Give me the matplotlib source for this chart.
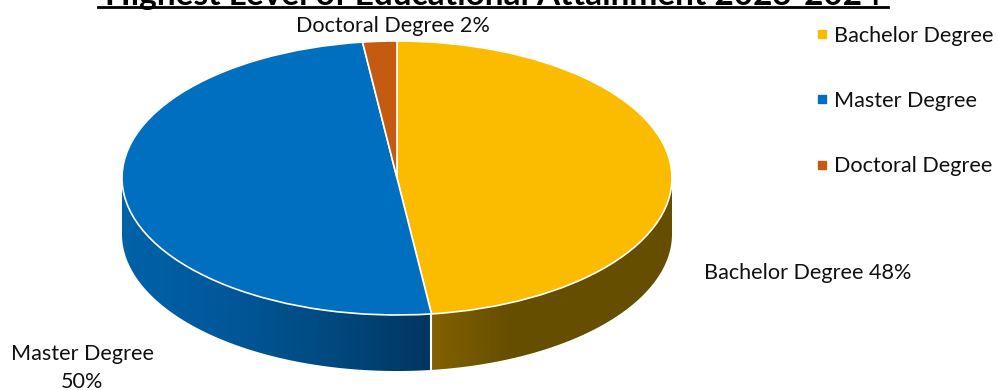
import numpy as np
import matplotlib
matplotlib.use("Agg")
import matplotlib.pyplot as plt
from matplotlib.colors import LinearSegmentedColormap
from matplotlib.lines import Line2D
from matplotlib.patches import Polygon

categories = ["Bachelor Degree", "Master Degree", "Doctoral Degree"]
values = [48, 50, 2]
colors = ["#FBBC00", "#006FC0", "#C55A11"]
title = "Highest Level of Educational Attainment 2023-2024"

W, H = 997, 390
CX, CY, RX, RY, DEPTH = 397, 178, 275, 137, 56

plt.rcParams["font.family"] = ["Lato", "DejaVu Sans"]


def fx(px):
    return px / W


def fy(py):
    return 1 - py / H


fig = plt.figure(figsize=(W / 100, H / 100), dpi=100)
ax = fig.add_axes([0, 0, 1, 1])

wedges, _ = ax.pie(values, colors=colors, startangle=90, counterclock=False,
                   wedgeprops={"edgecolor": "white", "linewidth": 1.2, "zorder": 5})
ax.set_aspect("auto")

# side wall of the slices, only the front half can be seen
d = DEPTH / RY
ends = 90 - np.cumsum(values) * 3.6


def wall(a0, a1, cmap, x0, x1):
    t = np.radians(np.linspace(a0, a1, 200))
    top = np.c_[np.cos(t), np.sin(t)]
    bottom = top[::-1] - [0, d]
    poly = Polygon(np.r_[top, bottom], closed=True, fc="none", ec="none", transform=ax.transData)
    ax.add_patch(poly)
    grad = np.linspace(0, 1, 256).reshape(1, -1)
    im = ax.imshow(grad, cmap=cmap, extent=[x0, x1, -1 - d, 0.1], aspect="auto", zorder=2)
    im.set_clip_path(poly)


blue_side = LinearSegmentedColormap.from_list("blue_side", ["#0062A8", "#00589A", "#004A80", "#003560"])
gold_side = LinearSegmentedColormap.from_list("gold_side", ["#826100", "#664E00", "#664E00", "#664E00"])
xs = np.cos(np.radians(ends[0]))
ys = np.sin(np.radians(ends[0]))
wall(0, ends[0], gold_side, xs, 1)
wall(ends[0], -180, blue_side, -1, xs)

# separator between the two visible walls
ax.plot([xs, xs], [ys, ys - d], color="white", lw=1.5, zorder=3)

ax.set_xlim((0 - CX) / RX, (W - CX) / RX)
ax.set_ylim((CY - H) / RY, CY / RY)
ax.axis("off")

# title runs off the top edge, same as the source image
fig.text(fx(493), fy(4.5), title, ha="center", va="baseline", fontsize=24, fontweight="bold", color="black")
fig.add_artist(Line2D([fx(98), fx(888)], [fy(6.5), fy(6.5)], color="black", lw=2.0))

label_style = {"fontsize": 15.6, "color": "#111111"}
fig.text(fx(393), fy(32), f"{categories[2]} {values[2]}%", ha="center", va="baseline", **label_style)
fig.text(fx(808), fy(279), f"{categories[0]} {values[0]}%", ha="center", va="baseline", **label_style)
fig.text(fx(82), fy(360), categories[1], ha="center", va="baseline", **label_style)
fig.text(fx(82), fy(388), f"{values[1]}%", ha="center", va="baseline", **label_style)

handles = [Line2D([], [], marker="s", ls="none", color=c, markersize=6) for c in colors]
fig.legend(handles, categories, loc="upper left", bbox_to_anchor=(fx(811), fy(26)),
           frameon=False, fontsize=15.6, labelspacing=2.08, handlelength=1.0,
           handletextpad=0.08, borderpad=0, borderaxespad=0, labelcolor="#111111")

fig.savefig("out.png", dpi=100)
